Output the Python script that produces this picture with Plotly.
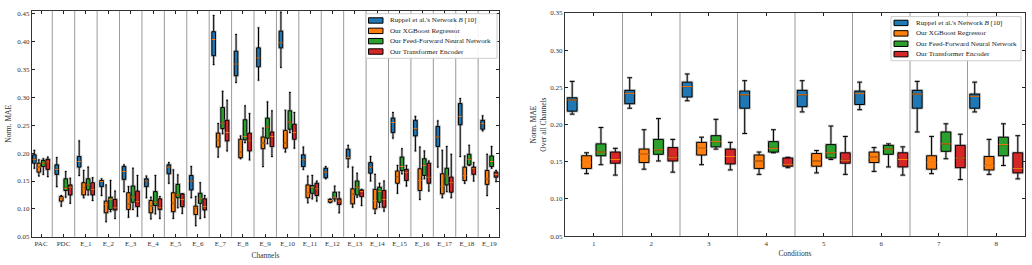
import plotly.graph_objects as go

# ---------------- data ----------------
channels = ["PAC", "PDC"] + [f"E_{i}" for i in range(1, 20)]
conditions = ["1", "2", "3", "4", "5", "6", "7", "8"]

series_names = [
    "Ruppel et al.'s Network <i>B</i> [10]",
    "Our XGBoost Regressor",
    "Our Feed-Forward Neural Network",
    "Our Transformer Encoder",
]
series_colors = ["#1f77b4", "#ff7f0e", "#2ca02c", "#d62728"]

# each entry: (lower whisker, q1, median, q3, upper whisker)
ruppel_channels = [
    (0.173, 0.182, 0.189, 0.197, 0.205), (0.140, 0.162, 0.171, 0.179, 0.192),
    (0.160, 0.175, 0.185, 0.194, 0.222), (0.124, 0.140, 0.149, 0.151, 0.154),
    (0.131, 0.153, 0.167, 0.176, 0.179), (0.120, 0.140, 0.150, 0.154, 0.159),
    (0.146, 0.163, 0.175, 0.179, 0.183), (0.120, 0.134, 0.150, 0.160, 0.176),
    (0.359, 0.375, 0.404, 0.418, 0.447), (0.327, 0.339, 0.360, 0.383, 0.413),
    (0.331, 0.355, 0.371, 0.389, 0.425), (0.354, 0.389, 0.398, 0.419, 0.453),
    (0.171, 0.176, 0.188, 0.197, 0.211), (0.154, 0.156, 0.166, 0.173, 0.176),
    (0.175, 0.190, 0.192, 0.207, 0.214), (0.150, 0.164, 0.175, 0.183, 0.194),
    (0.227, 0.237, 0.255, 0.263, 0.273), (0.204, 0.231, 0.244, 0.259, 0.266),
    (0.175, 0.212, 0.229, 0.248, 0.258), (0.194, 0.251, 0.266, 0.289, 0.298),
    (0.240, 0.243, 0.253, 0.259, 0.267),
]
xgb_channels = [
    (0.159, 0.166, 0.175, 0.182, 0.188), (0.105, 0.114, 0.120, 0.122, 0.124),
    (0.120, 0.125, 0.137, 0.147, 0.169), (0.077, 0.093, 0.108, 0.114, 0.143),
    (0.085, 0.099, 0.109, 0.129, 0.140), (0.082, 0.093, 0.105, 0.115, 0.121),
    (0.083, 0.095, 0.111, 0.129, 0.170), (0.070, 0.090, 0.102, 0.105, 0.122),
    (0.193, 0.211, 0.224, 0.236, 0.253), (0.190, 0.192, 0.202, 0.225, 0.231),
    (0.176, 0.208, 0.218, 0.229, 0.245), (0.202, 0.209, 0.218, 0.241, 0.277),
    (0.111, 0.120, 0.128, 0.143, 0.159), (0.111, 0.112, 0.115, 0.117, 0.118),
    (0.103, 0.109, 0.127, 0.136, 0.175), (0.092, 0.100, 0.115, 0.135, 0.162),
    (0.128, 0.146, 0.157, 0.168, 0.178), (0.117, 0.133, 0.151, 0.172, 0.211),
    (0.120, 0.127, 0.140, 0.163, 0.205), (0.146, 0.151, 0.160, 0.175, 0.195),
    (0.124, 0.144, 0.154, 0.169, 0.198),
]
ffnn_channels = [
    (0.162, 0.176, 0.182, 0.187, 0.190), (0.121, 0.133, 0.137, 0.154, 0.167),
    (0.125, 0.134, 0.143, 0.154, 0.175), (0.095, 0.099, 0.117, 0.121, 0.151),
    (0.099, 0.112, 0.121, 0.141, 0.173), (0.091, 0.106, 0.112, 0.131, 0.160),
    (0.102, 0.120, 0.125, 0.144, 0.161), (0.083, 0.110, 0.118, 0.128, 0.147),
    (0.235, 0.244, 0.254, 0.282, 0.311), (0.219, 0.224, 0.230, 0.260, 0.285),
    (0.217, 0.227, 0.247, 0.263, 0.292), (0.237, 0.243, 0.256, 0.276, 0.309),
    (0.118, 0.128, 0.138, 0.142, 0.160), (0.114, 0.118, 0.120, 0.130, 0.141),
    (0.121, 0.125, 0.139, 0.150, 0.164), (0.103, 0.112, 0.131, 0.139, 0.146),
    (0.163, 0.169, 0.176, 0.193, 0.208), (0.154, 0.160, 0.178, 0.190, 0.204),
    (0.131, 0.143, 0.159, 0.173, 0.212), (0.178, 0.179, 0.189, 0.198, 0.214),
    (0.173, 0.176, 0.185, 0.195, 0.212),
]
transformer_channels = [
    (0.158, 0.171, 0.184, 0.189, 0.193), (0.110, 0.125, 0.139, 0.143, 0.155),
    (0.115, 0.125, 0.135, 0.147, 0.156), (0.083, 0.098, 0.102, 0.117, 0.132),
    (0.087, 0.104, 0.113, 0.132, 0.160), (0.083, 0.099, 0.102, 0.118, 0.122),
    (0.092, 0.104, 0.117, 0.127, 0.127), (0.085, 0.098, 0.104, 0.118, 0.124),
    (0.204, 0.222, 0.237, 0.259, 0.295), (0.188, 0.204, 0.222, 0.236, 0.271),
    (0.194, 0.212, 0.230, 0.238, 0.276), (0.209, 0.225, 0.237, 0.252, 0.273),
    (0.114, 0.124, 0.136, 0.146, 0.150), (0.093, 0.108, 0.114, 0.118, 0.130),
    (0.106, 0.122, 0.131, 0.134, 0.135), (0.096, 0.103, 0.117, 0.133, 0.150),
    (0.141, 0.151, 0.165, 0.171, 0.178), (0.132, 0.146, 0.157, 0.182, 0.186),
    (0.120, 0.130, 0.147, 0.157, 0.198), (0.150, 0.162, 0.172, 0.175, 0.183),
    (0.149, 0.157, 0.162, 0.166, 0.169),
]

ruppel_conditions = [
    (0.214, 0.218, 0.233, 0.236, 0.258), (0.222, 0.228, 0.242, 0.246, 0.263),
    (0.232, 0.237, 0.251, 0.257, 0.268), (0.188, 0.222, 0.240, 0.245, 0.259),
    (0.217, 0.224, 0.240, 0.246, 0.259), (0.220, 0.227, 0.242, 0.245, 0.257),
    (0.190, 0.222, 0.241, 0.246, 0.258), (0.217, 0.222, 0.238, 0.241, 0.257),
]
xgb_conditions = [
    (0.134, 0.141, 0.149, 0.158, 0.162), (0.140, 0.149, 0.160, 0.167, 0.193),
    (0.146, 0.159, 0.168, 0.176, 0.183), (0.133, 0.141, 0.151, 0.159, 0.163),
    (0.135, 0.144, 0.151, 0.161, 0.165), (0.137, 0.149, 0.156, 0.163, 0.169),
    (0.134, 0.140, 0.149, 0.158, 0.184), (0.133, 0.139, 0.145, 0.157, 0.180),
]
ffnn_conditions = [
    (0.146, 0.158, 0.163, 0.174, 0.196), (0.151, 0.160, 0.166, 0.180, 0.208),
    (0.167, 0.170, 0.177, 0.185, 0.207), (0.162, 0.163, 0.168, 0.177, 0.193),
    (0.153, 0.155, 0.162, 0.173, 0.198), (0.143, 0.160, 0.167, 0.172, 0.174),
    (0.154, 0.164, 0.174, 0.190, 0.201), (0.145, 0.158, 0.173, 0.183, 0.201),
]
transformer_conditions = [
    (0.132, 0.148, 0.153, 0.163, 0.168), (0.136, 0.151, 0.156, 0.169, 0.180),
    (0.139, 0.147, 0.157, 0.167, 0.176), (0.142, 0.144, 0.146, 0.155, 0.156),
    (0.133, 0.148, 0.152, 0.162, 0.184), (0.132, 0.143, 0.153, 0.162, 0.170),
    (0.126, 0.142, 0.155, 0.172, 0.187), (0.127, 0.135, 0.141, 0.162, 0.185),
]

channel_series = [ruppel_channels, xgb_channels, ffnn_channels, transformer_channels]
condition_series = [ruppel_conditions, xgb_conditions, ffnn_conditions, transformer_conditions]

# ---------------- figure ----------------
FONT = "Liberation Serif, Times New Roman, serif"
W, H = 1032, 265
fig = go.Figure()


def add_panel(series_list, n_groups, base, offsets, width, xaxis, yaxis):
    for k, stats in enumerate(series_list):
        pos = [base + g + offsets[k] for g in range(n_groups)]
        common = dict(
            x=pos,
            lowerfence=[s[0] for s in stats],
            q1=[s[1] for s in stats],
            median=[s[2] for s in stats],
            q3=[s[3] for s in stats],
            upperfence=[s[4] for s in stats],
            width=width,
            whiskerwidth=0.5,
            boxpoints=False,
            showlegend=False,
            xaxis=xaxis, yaxis=yaxis,
            hoverinfo="skip",
        )
        # soft grey halo behind each box (path-effect look)
        fig.add_trace(go.Box(**common, fillcolor="rgba(0,0,0,0)",
                             line=dict(color="rgba(140,140,140,0.5)", width=2.6),
                             name=series_names[k] + " halo"))
        fig.add_trace(go.Box(**common, fillcolor=series_colors[k],
                             line=dict(color="black", width=1),
                             name=series_names[k]))
    # median lines (orange, matplotlib style)
    for k, stats in enumerate(series_list):
        mx, my = [], []
        for g, s in enumerate(stats):
            p = base + g + offsets[k]
            mx += [p - width / 2, p + width / 2, None]
            my += [s[2], s[2], None]
        fig.add_trace(go.Scatter(
            x=mx, y=my, mode="lines",
            line=dict(color="#ff7f0e", width=1),
            showlegend=False, hoverinfo="skip",
            xaxis=xaxis, yaxis=yaxis,
        ))


add_panel(channel_series, len(channels), 0, [-0.3, -0.1, 0.1, 0.3], 0.16, "x", "y")
add_panel(condition_series, len(conditions), 1, [-0.375, -0.125, 0.125, 0.375], 0.17, "x2", "y2")

shapes = []
for i in range(len(channels) - 1):
    shapes.append(dict(type="line", xref="x", yref="y domain", x0=i + 0.5, x1=i + 0.5,
                       y0=0, y1=1, line=dict(color="#9a9a9a", width=1), layer="below"))
for i in range(len(conditions) - 1):
    shapes.append(dict(type="line", xref="x2", yref="y2 domain", x0=i + 1.5, x1=i + 1.5,
                       y0=0, y1=1, line=dict(color="#9a9a9a", width=1), layer="below"))

annotations = []


def px_x(v):
    return v / W


def px_y(v):
    return 1 - v / H


def add_legend(box_x0, box_x1, box_y0, box_y1, row_y, patch_x0, patch_x1, text_x):
    shapes.append(dict(type="rect", xref="paper", yref="paper",
                       x0=px_x(box_x0), x1=px_x(box_x1), y0=px_y(box_y1), y1=px_y(box_y0),
                       fillcolor="rgba(255,255,255,0.9)", line=dict(color="#cccccc", width=1),
                       layer="above"))
    for k, name in enumerate(series_names):
        yc = row_y[k]
        shapes.append(dict(type="rect", xref="paper", yref="paper",
                           x0=px_x(patch_x0), x1=px_x(patch_x1),
                           y0=px_y(yc + 2.8), y1=px_y(yc - 2.8),
                           fillcolor=series_colors[k], line=dict(color="black", width=1),
                           layer="above"))
        annotations.append(dict(xref="paper", yref="paper", x=px_x(text_x), y=px_y(yc),
                                xanchor="left", yanchor="middle", showarrow=False,
                                text=name, font=dict(family=FONT, size=7.1, color="#222222")))


add_legend(366, 497, 10, 56, [17, 27.7, 38.3, 49], 368.5, 383, 388)
add_legend(891, 1021, 13, 58.5, [19.5, 30.3, 41, 51.7], 894, 908, 914)

axis_common = dict(
    showline=True, linecolor="#333333", linewidth=1.2, mirror="ticks",
    ticks="inside", ticklen=3, tickwidth=1, tickcolor="#222222",
    showgrid=False, zeroline=False,
    tickfont=dict(family=FONT, size=7, color="#333333"),
)

fig.update_layout(
    width=W, height=H,
    margin=dict(l=0, r=0, t=0, b=0),
    paper_bgcolor="white", plot_bgcolor="white",
    font=dict(family=FONT, size=7, color="#333333"),
    boxmode="overlay",
    showlegend=False,
    shapes=shapes,
    annotations=annotations,
    xaxis=dict(
        **axis_common,
        domain=[32 / W, 499 / W],
        range=[-0.405, 20.43],
        tickmode="array",
        tickvals=list(range(len(channels))),
        ticktext=channels,
        title=dict(text="Channels", font=dict(family=FONT, size=7.5), standoff=5),
        anchor="y",
    ),
    yaxis=dict(
        **axis_common,
        domain=[25 / H, 257.7 / H],
        range=[0.05, 0.455],
        tickmode="array",
        tickvals=[0.05, 0.10, 0.15, 0.20, 0.25, 0.30, 0.35, 0.40, 0.45],
        tickformat=".2f",
        title=dict(text="Norm. MAE", font=dict(family=FONT, size=7.5), standoff=4),
        anchor="x",
    ),
    xaxis2=dict(
        **axis_common,
        domain=[565 / W, 1025 / W],
        range=[0.5, 8.5],
        tickmode="array",
        tickvals=list(range(1, len(conditions) + 1)),
        ticktext=conditions,
        title=dict(text="Conditions", font=dict(family=FONT, size=7.5), standoff=4),
        anchor="y2",
    ),
    yaxis2=dict(
        **axis_common,
        domain=[25.7 / H, 255.7 / H],
        range=[0.05, 0.35],
        tickmode="array",
        tickvals=[0.05, 0.10, 0.15, 0.20, 0.25, 0.30, 0.35],
        tickformat=".2f",
        title=dict(text="Norm. MAE<br>Over all Channels", font=dict(family=FONT, size=7.5), standoff=2),
        anchor="x2",
    ),
)

fig.write_html("out.html")
